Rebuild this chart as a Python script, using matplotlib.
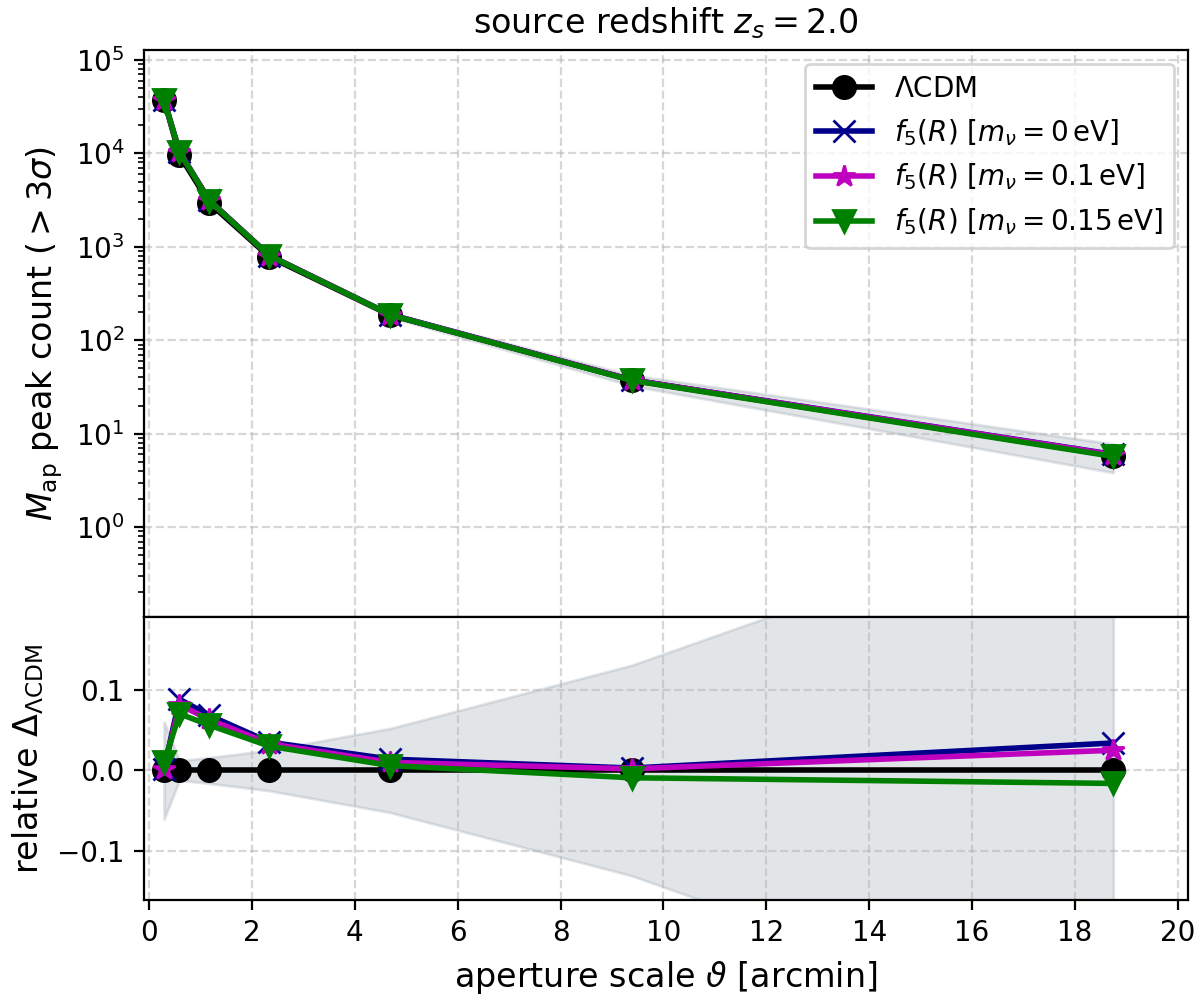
import numpy as np
import matplotlib
matplotlib.use("Agg")
import matplotlib.pyplot as plt

# aperture scales [arcmin]
theta = np.array([0.29, 0.59, 1.17, 2.34, 4.69, 9.38, 18.75])

# LCDM peak counts (> 3 sigma) and relative scatter
counts_lcdm = np.array([37300, 9600, 2950, 780, 186, 37.5, 5.8])
rel_err = np.array([0.06, 0.012, 0.016, 0.025, 0.052, 0.13, 0.34])

# relative difference to LCDM for the f(R) runs
delta_m0 = np.array([0.002, 0.088, 0.068, 0.035, 0.014, 0.003, 0.034])
delta_m01 = np.array([0.002, 0.081, 0.063, 0.033, 0.010, 0.002, 0.025])
delta_m015 = np.array([0.010, 0.070, 0.056, 0.030, 0.006, -0.009, -0.016])

labels = [r"$\Lambda$CDM",
          r"$f_5(R)$ $[m_\nu=0\,\mathrm{eV}]$",
          r"$f_5(R)$ $[m_\nu=0.1\,\mathrm{eV}]$",
          r"$f_5(R)$ $[m_\nu=0.15\,\mathrm{eV}]$"]
colors = ["black", "darkblue", "m", "green"]
markers = ["o", "x", "*", "v"]

fig, (ax1, ax2) = plt.subplots(2, 1, sharex=True, figsize=(6, 5), dpi=200,
                               gridspec_kw={"height_ratios": [2, 1], "hspace": 0})
fig.subplots_adjust(left=0.12, right=0.99, top=0.95, bottom=0.1)

# top panel
ax1.fill_between(theta, counts_lcdm * (1 - rel_err), counts_lcdm * (1 + rel_err),
                 color="slategray", alpha=0.2)
deltas = [np.zeros_like(theta), delta_m0, delta_m01, delta_m015]
for d, lab, c, m in zip(deltas, labels, colors, markers):
    ax1.plot(theta, counts_lcdm * (1 + d), color=c, marker=m, lw=2, ms=8, label=lab)
ax1.set_yscale("log")
ax1.set_ylim(0.11, 1.28e5)
ax1.set_ylabel(r"$M_\mathrm{ap}$ peak count $(>3\sigma)$", fontsize=12)
ax1.set_title(r"source redshift $z_s=2.0$", fontsize=12)
ax1.grid(ls="--", alpha=0.5)
ax1.legend(loc="upper right", fontsize=10)

# bottom panel
ax2.fill_between(theta, -rel_err, rel_err, color="slategray", alpha=0.2)
for d, lab, c, m in zip(deltas, labels, colors, markers):
    ax2.plot(theta, d, color=c, marker=m, lw=2, ms=8)
ax2.set_ylim(-0.16, 0.19)
ax2.set_xlim(-0.1, 20.2)
ax2.set_xticks(np.arange(0, 21, 2))
ax2.set_ylabel(r"relative $\Delta_{\Lambda\mathrm{CDM}}$", fontsize=12)
ax2.set_xlabel(r"aperture scale $\vartheta$ [arcmin]", fontsize=12)
ax2.grid(ls="--", alpha=0.5)

fig.savefig("out.png")
